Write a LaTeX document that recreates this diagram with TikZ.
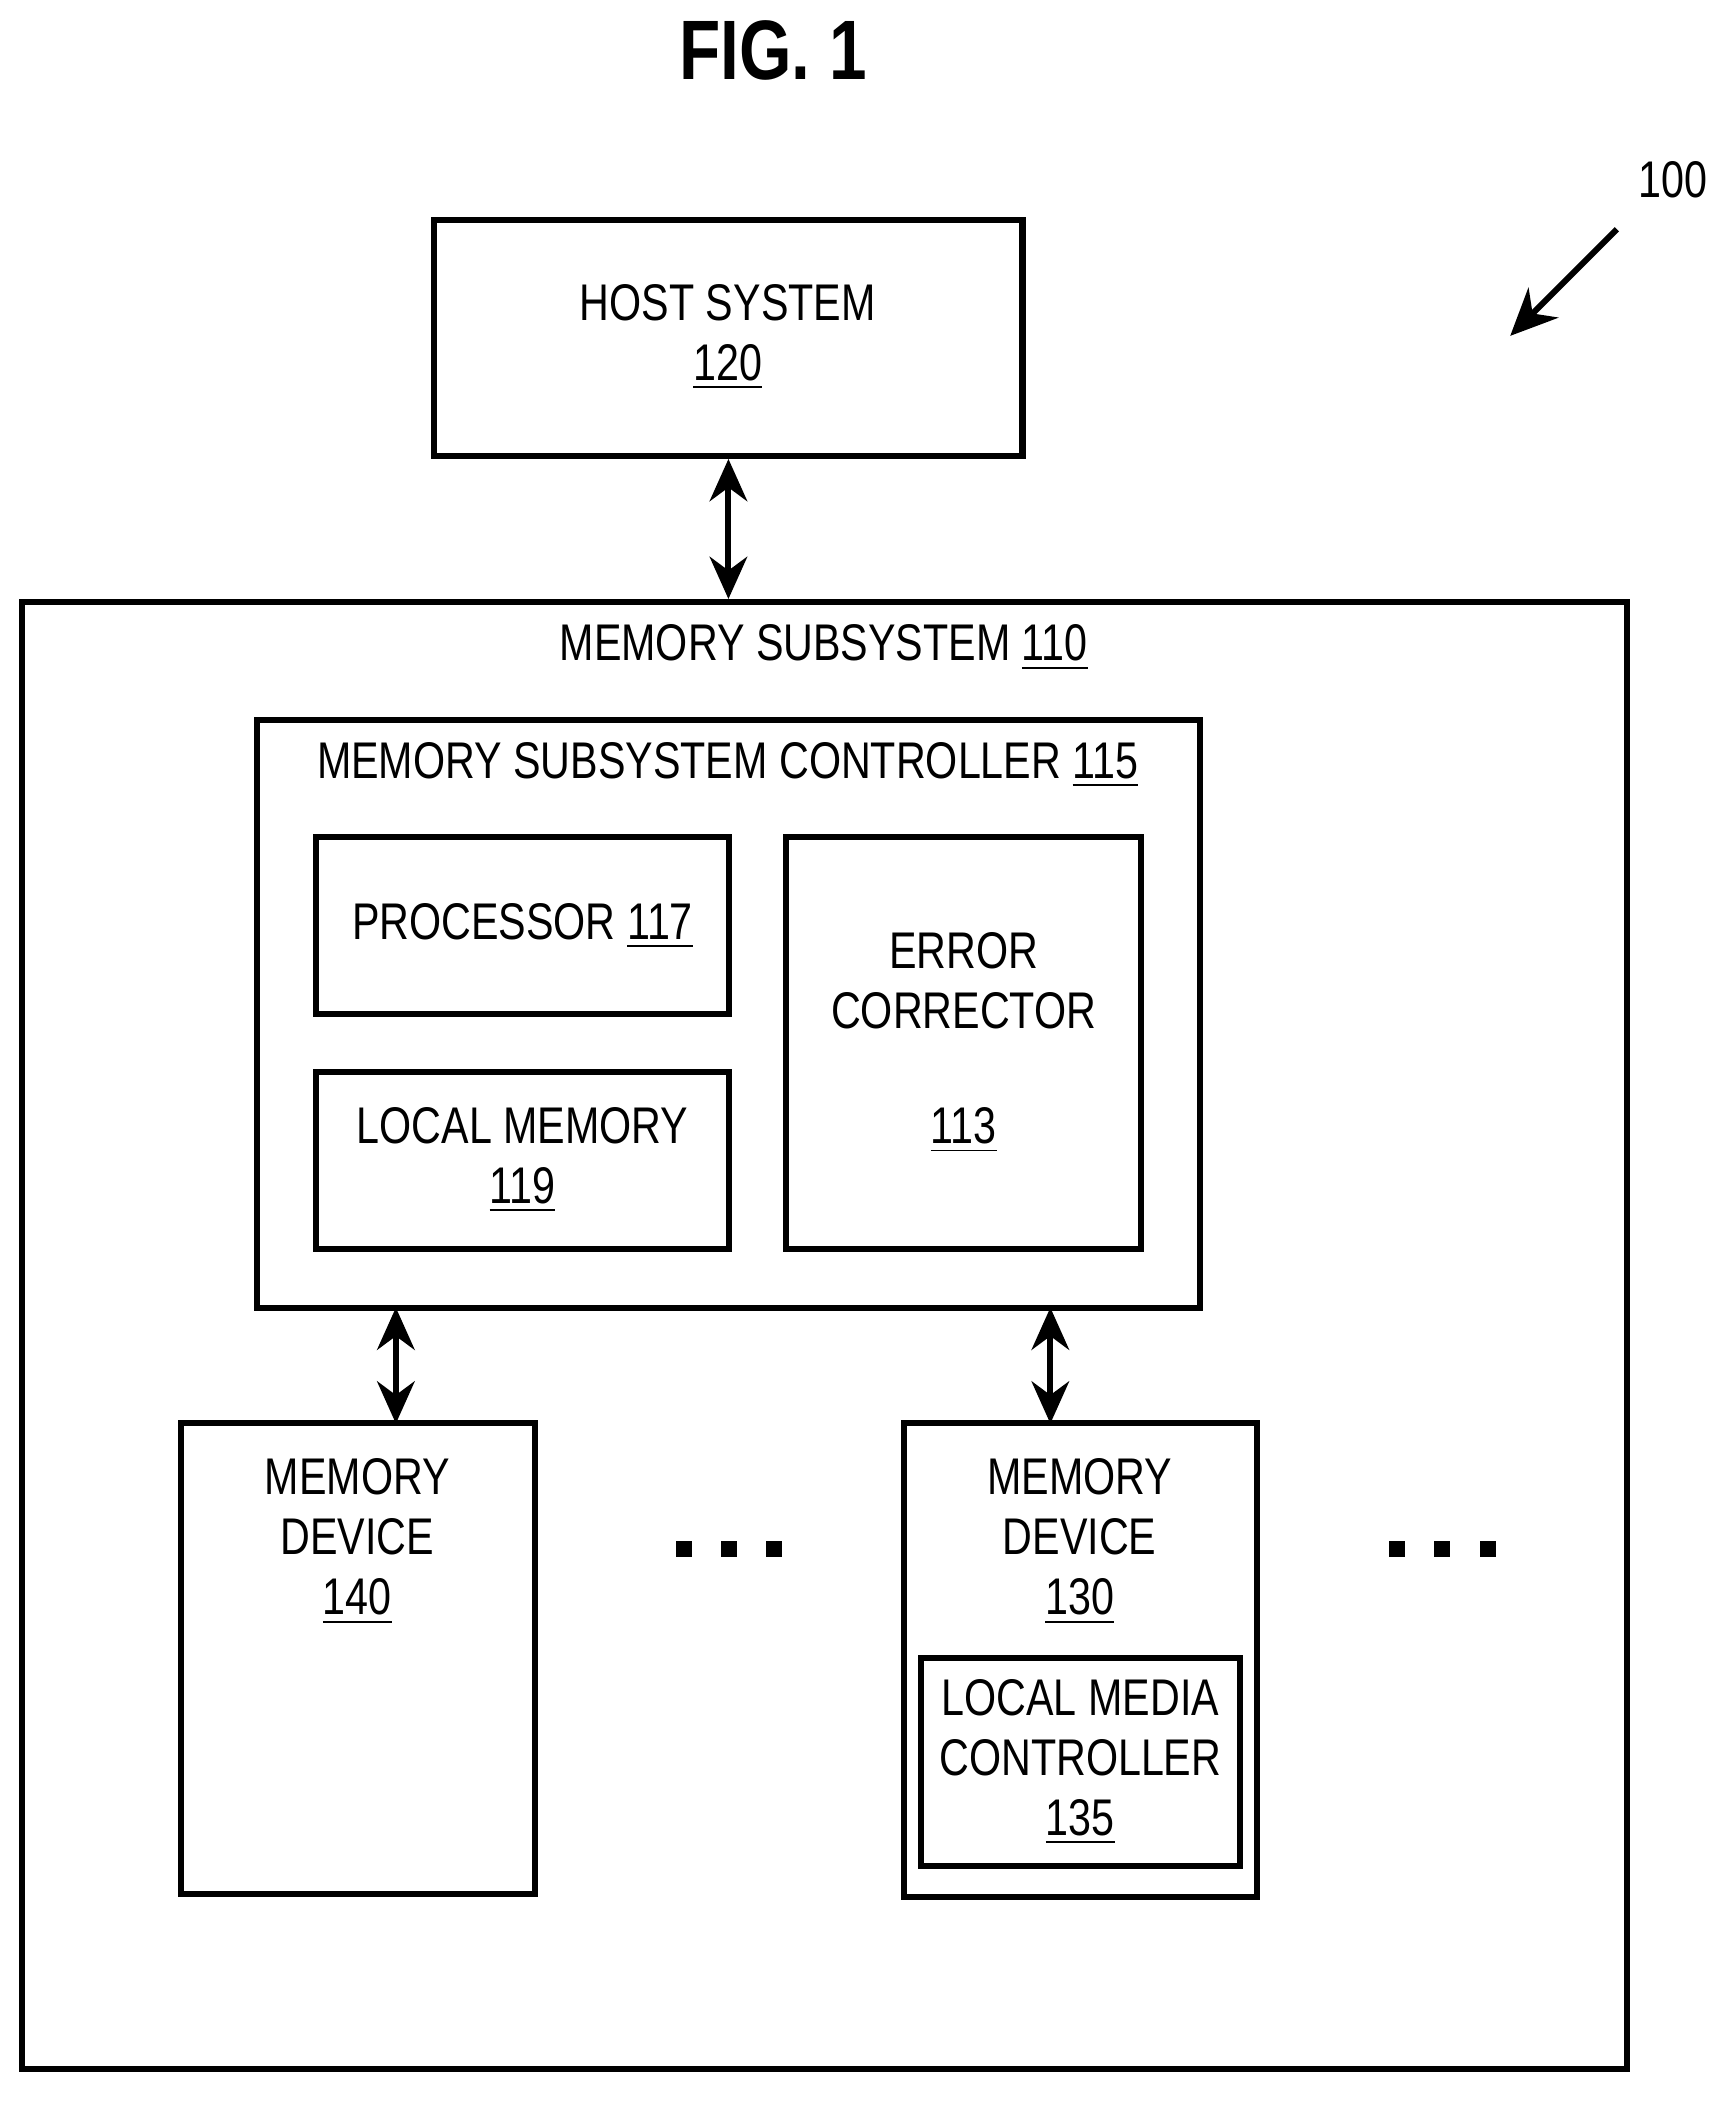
\documentclass[tikz,border=0pt]{standalone}
\usepackage{fontspec}
\setmainfont{Liberation Sans}[FakeStretch=0.8]
\usetikzlibrary{arrows.meta}
\tikzset{
  box/.style={draw, line width=1.3pt, inner sep=0pt},
  lbl/.style={font=\fontsize{11}{12.8}\selectfont, align=center},
  link/.style={line width=1.3pt, {Stealth[length=9pt,width=8pt]}-{Stealth[length=9pt,width=8pt]}},
}
\newcommand{\refn}[1]{\underline{#1}}
\begin{document}
\begin{tikzpicture}[x=0.01cm,y=-0.01cm]
    \path[use as bounding box] (0,0) rectangle (1300,1577);
    % Title.
    \node[font=\fontsize{18}{20}\selectfont\bfseries] (fig) at (580,38) {FIG. 1};
    \node[lbl] (num) at (1255,135) {100};
    \coordinate (ptr) at (1133,252);
    \draw[line width=1.3pt, -{Stealth[length=10pt,width=9pt]}] (1213,172) -- (ptr);
    % Host.
    \node[box, minimum width=4.41cm, minimum height=1.77cm] (host) at (546.5,253.5) {};
    \node[lbl] at (546,253) {HOST SYSTEM\\\refn{120}};
    % Memory subsystem.
    \node[box, minimum width=12.03cm, minimum height=11.0cm] (sub) at (618.5,1002) {};
    \node[lbl] (subl) at (618,486) {MEMORY SUBSYSTEM \refn{110}};
    \draw[link] (host.south) -- (host.south |- sub.north);
    % Controller.
    \node[box, minimum width=7.07cm, minimum height=4.41cm] (ctrl) at (546.5,760.5) {};
    \node[lbl] (ctrll) at (546,574) {MEMORY SUBSYSTEM CONTROLLER \refn{115}};
    \node[box, minimum width=3.10cm, minimum height=1.33cm, lbl] (proc) at (392,694.5) {PROCESSOR \refn{117}};
    \node[box, minimum width=3.10cm, minimum height=1.33cm, lbl] (lmem) at (392,870.5) {LOCAL MEMORY\\\refn{119}};
    \node[box, minimum width=2.66cm, minimum height=3.09cm] (ecc) at (723,782.5) {};
    \node[lbl] at (723,736) {ERROR\\CORRECTOR};
    \node[lbl] at (723,848) {\refn{113}};
    % Memory devices.
    \node[box, minimum width=2.65cm, minimum height=3.53cm] (dev140) at (268.5,1244.5) {};
    \node[lbl, anchor=north] at (268,1082) {MEMORY\\DEVICE\\\refn{140}};
    \node[box, minimum width=2.65cm, minimum height=3.55cm] (dev130) at (810.5,1245.5) {};
    \node[lbl, anchor=north] at (810,1082) {MEMORY\\DEVICE\\\refn{130}};
    \node[box, minimum width=2.39cm, minimum height=1.56cm, lbl] (lmc) at (810.5,1322) {LOCAL MEDIA\\CONTROLLER\\\refn{135}};
    \draw[link] (297,981) -- (297,1068);
    \draw[link] (788,981) -- (788,1068);
    % Dots.
    \foreach \x in {513,547,581,1048,1082,1116}
      \fill (\x-6,1156) rectangle (\x+6,1168);
\end{tikzpicture}
\end{document}
